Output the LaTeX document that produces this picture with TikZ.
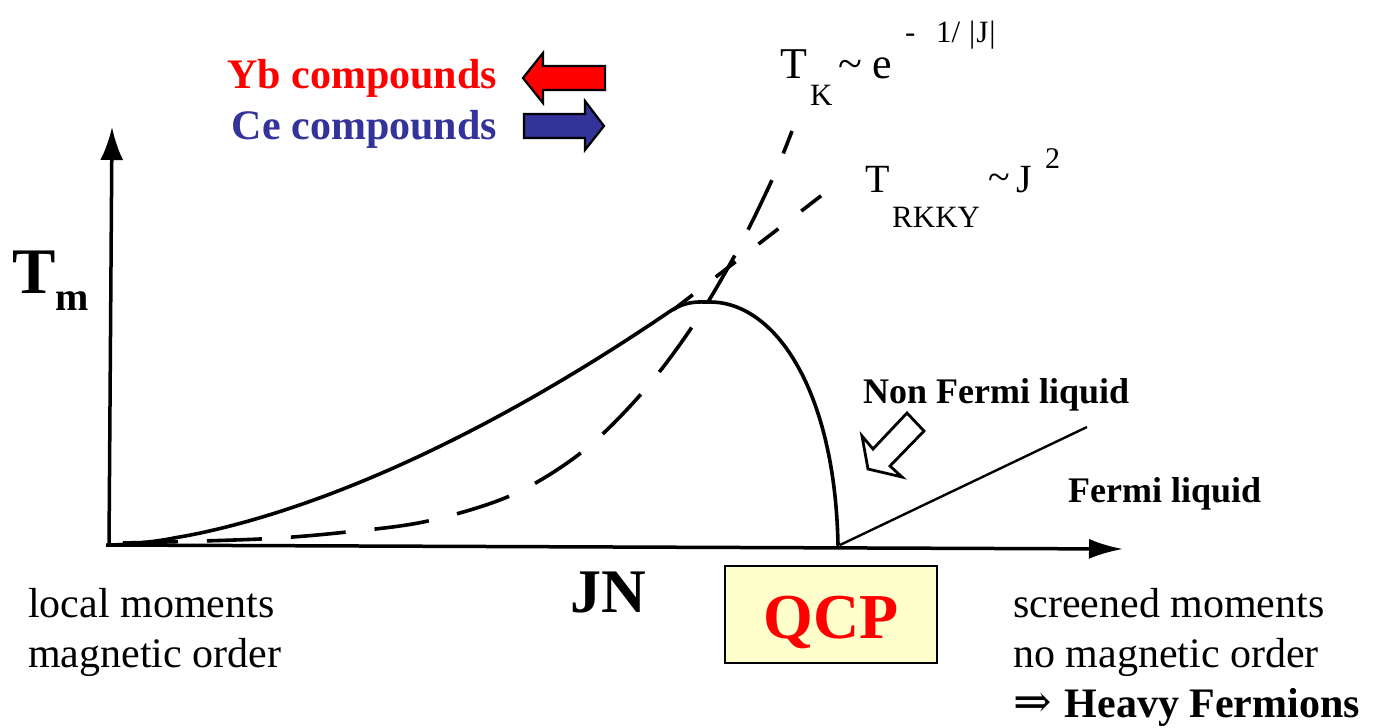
\documentclass[tikz,border=0pt]{standalone}
\usepackage{fontspec}
\setmainfont{Liberation Serif}
\newfontfamily\symfont{DejaVu Serif}
\usetikzlibrary{arrows.meta}
\definecolor{ybred}{RGB}{255,0,0}
\definecolor{ceblue}{RGB}{51,51,153}
\definecolor{qcpfill}{RGB}{255,255,204}
\newcommand{\fsz}[1]{\fontsize{#1}{#1}\selectfont}
\begin{document}
\begin{tikzpicture}[x=1pt,y=-1pt,
  txt/.style={inner sep=0pt, anchor=base west},
  axisline/.style={line width=3.5pt},
  curveline/.style={line width=3.6pt, line cap=round, line join=round},
  blockarrow/.style={draw=black, line width=2.2pt, line join=miter},
  lab/.style={txt, font=\fsz{42}},
  blab/.style={txt, font=\bfseries\fsz{42}}]
\useasboundingbox (0,0) rectangle (1374,728);
\fill[white] (0,0) rectangle (1374,728);

% coordinates
\coordinate (O) at (110,545);
\coordinate (ytip) at (112,127);
\coordinate (xtip) at (1123,549);
\coordinate (qcp) at (840,545);
\coordinate (flend) at (1087,427);
\coordinate (peak) at (710,302);

% axes
\draw[axisline, -{Latex[length=33pt,width=23pt]}] (109,546) -- (ytip);
\draw[axisline, -{Latex[length=34pt,width=20pt]}] (106,545) -- (xtip);

% T_K dashed curve
\draw[curveline, line cap=butt, dash pattern=on 55pt off 29pt]
  plot[smooth, tension=0.55] coordinates {(123,543) (260,539) (347,532) (428,521) (512,495) (582,452) (642,393) (692,327) (735,255) (772,180) (792,131)};

% T_RKKY dashed line
\draw[curveline, line cap=butt, dash pattern=on 25pt off 29pt] (673,310) -- (826,192);

% T_m solid curve
\draw[curveline]
  plot[domain=0.001:1.142, samples=70, variable=\t] ({110+490*\t},{545-188*(\t)^1.63})
  .. controls (686,300.5) and (698,302) .. (peak)
  .. controls (775,302) and (835,390) .. (838,545);

% Fermi liquid line
\draw[line width=2.4pt] (qcp) -- (flend);

% hollow arrow
\draw[line width=2.8pt, fill=white, line join=miter]
  (868,469) -- (862,436) -- (873,449) -- (907,413) -- (924,431) -- (890,466) -- (902,477) -- cycle;

% block arrows
\draw[blockarrow, fill=ybred]
  (523,78) -- (543,53) -- (543,66) -- (605,66) -- (605,90) -- (543,90) -- (543,103) -- cycle;
\draw[blockarrow, fill=ceblue]
  (604,126) -- (585,101) -- (585,114) -- (524,114) -- (524,138) -- (585,138) -- (585,150) -- cycle;

% compound labels
\node[blab, anchor=base east, text=ybred] (yb) at (497,88) {Yb compounds};
\node[blab, anchor=base east, text=ceblue] (ce) at (497,139) {Ce compounds};

% T_K label
\node[txt, font=\fsz{44}] (tk) at (780,78) {T};
\node[txt, font=\fsz{31}] (tksub) at (810,105) {K};
\node[txt, font=\fsz{44}] (tkt) at (838,78) {\char`\~};
\node[txt, font=\fsz{44}] (tke) at (872,78) {e};
\node[txt, font=\fsz{31}] (tkx1) at (905,42) {-};
\node[txt, font=\fsz{31}] (tkx2) at (936,42) {1/};
\node[txt, font=\fsz{31}] (tkx3) at (969,42) {|\kern1pt J\kern1pt|};

% T_RKKY label
\node[txt, font=\fsz{40}] (tr) at (865,192) {T};
\node[txt, font=\fsz{31}] (trsub) at (892,227) {RKKY};
\node[txt, font=\fsz{40}] (trt) at (988,190) {\char`\~};
\node[txt, font=\fsz{40}] (trj) at (1016,192) {J};
\node[txt, font=\fsz{30}] (tr2) at (1045,168) {2};

% T_m axis label
\node[txt, font=\bfseries\fsz{65}] (tm) at (12,293) {T};
\node[txt, font=\bfseries\fsz{40}] (tmsub) at (55,310) {m};

% JN axis label
\node[txt, font=\bfseries\fsz{62}] (jn) at (570,612) {JN};

% Fermi liquid labels
\node[txt, font=\bfseries\fsz{36}] (nfl) at (863,403) {Non Fermi liquid};
\node[txt, font=\bfseries\fsz{36}] (fl) at (1068,502) {Fermi liquid};

% QCP box
\draw[line width=2pt, fill=qcpfill] (725,566) rectangle (937,663);
\node[inner sep=0pt, anchor=base, text=ybred, font=\bfseries\fsz{64}] (qcplab) at (831,638) {QCP};

% bottom texts
\node[lab] (lm) at (28,617) {local moments};
\node[lab] (mo) at (28,667) {magnetic order};
\node[lab] (sm) at (1013,617) {screened moments};
\node[lab] (nmo) at (1013,667) {no magnetic order};
\node[txt, font=\fsz{42}] (hf) at (1013,717) {{\symfont\fsz{46}⇒}\kern13pt\bfseries Heavy Fermions};
\end{tikzpicture}
\end{document}
